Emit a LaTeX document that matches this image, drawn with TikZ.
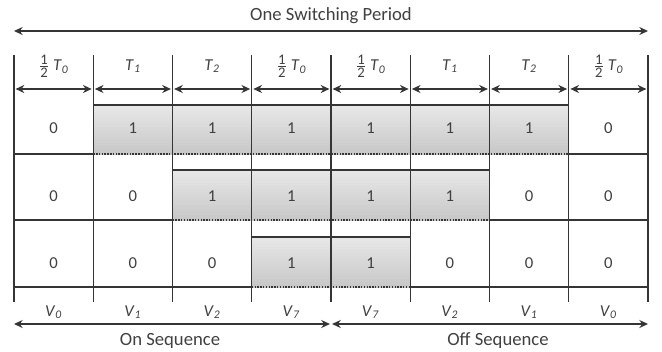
\documentclass[tikz,border=0pt]{standalone}
\usepackage{fontspec}
\setmainfont{Carlito}
\usetikzlibrary{arrows.meta}
\definecolor{lnc}{HTML}{353535}
\definecolor{txc}{HTML}{404040}
\newcommand{\hlf}{\ensuremath{\frac{\mbox{\fontsize{11}{11}\selectfont 1}}{\mbox{\fontsize{11}{11}\selectfont 2}}}}
\begin{document}
\begin{tikzpicture}[x=0.75pt,y=-0.75pt,
  lnst/.style={draw=lnc,line width=1.1pt},
  dotst/.style={draw=lnc,line width=1.1pt,densely dotted},
  dbl/.style={draw=lnc,line width=1.1pt,{Stealth[length=6.5pt,width=6pt]}-{Stealth[length=6.5pt,width=6pt]}},
  onbox/.style={top color=black!9,bottom color=black!22},
  lbl/.style={text=txc,font=\fontsize{12.5}{14}\selectfont,inner sep=1pt},
  ttl/.style={text=txc,font=\fontsize{14}{16}\selectfont,inner sep=1pt}]
\useasboundingbox (0,0) rectangle (662,351);
% column coordinates
\foreach \i in {0,...,8}{
  \coordinate (t\i) at (14+79.25*\i,55);
  \coordinate (b\i) at (14+79.25*\i,302);
  \coordinate (h\i) at (14+79.25*\i,89);
  \coordinate (ra\i) at (14+79.25*\i,105);
  \coordinate (rb\i) at (14+79.25*\i,154);
  \coordinate (rc\i) at (14+79.25*\i,170);
  \coordinate (rd\i) at (14+79.25*\i,220);
  \coordinate (re\i) at (14+79.25*\i,237);
  \coordinate (rf\i) at (14+79.25*\i,287);
}
% shaded on-boxes
\fill[onbox] (ra1) rectangle (rb7);
\fill[onbox] (rc2) rectangle (rd6);
\fill[onbox] (re3) rectangle (rf5);
% box outlines
\draw[lnst] (ra1) -- (ra7) -- (rb7);
\draw[dotst] (rb1) -- (rb7);
\draw[lnst] (rc2) -- (rc6) -- (rd6);
\draw[dotst] (rd2) -- (rd6);
\draw[lnst] (re3) -- (re5) -- (rf5);
\draw[dotst] (rf3) -- (rf5);
% white cell bottoms
\draw[lnst] (rb0) -- (rb1);
\draw[lnst] (rb7) -- (rb8);
\draw[lnst] (rd0) -- (rd2);
\draw[lnst] (rd6) -- (rd8);
\draw[lnst] (rf0) -- (rf3);
\draw[lnst] (rf5) -- (rf8);
% column lines
\foreach \i in {0,...,8}{\draw[lnst] (t\i) -- (b\i);}
% header arrows
\foreach \i [evaluate=\i as \j using int(\i+1)] in {0,...,7}{
  \draw[dbl] ([xshift=1.2]h\i) -- ([xshift=-1.2]h\j);
}
% title arrow
\coordinate (ta) at (14,31);
\coordinate (tb) at (648,31);
\draw[dbl] (ta) -- (tb);
\node[ttl] (title) at (331,16) {One Switching Period};
% header labels
\node[lbl] (hd0) at (53.6,66) {\hlf\ \textit{T}\textsubscript{\textit{0}}};
\node[lbl] (hd1) at (132.9,66) {\textit{T}\textsubscript{\textit{1}}};
\node[lbl] (hd2) at (212.1,66) {\textit{T}\textsubscript{\textit{2}}};
\node[lbl] (hd3) at (291.4,66) {\hlf\ \textit{T}\textsubscript{\textit{0}}};
\node[lbl] (hd4) at (370.6,66) {\hlf\ \textit{T}\textsubscript{\textit{0}}};
\node[lbl] (hd5) at (449.9,66) {\textit{T}\textsubscript{\textit{1}}};
\node[lbl] (hd6) at (529.1,66) {\textit{T}\textsubscript{\textit{2}}};
\node[lbl] (hd7) at (608.4,66) {\hlf\ \textit{T}\textsubscript{\textit{0}}};
% cell values
\foreach \v [count=\k from 0] in {0,1,1,1,1,1,1,0}{
  \node[lbl] (ca\k) at (53.6+79.25*\k,128) {\v};}
\foreach \v [count=\k from 0] in {0,0,1,1,1,1,0,0}{
  \node[lbl] (cb\k) at (53.6+79.25*\k,196) {\v};}
\foreach \v [count=\k from 0] in {0,0,0,1,1,0,0,0}{
  \node[lbl] (cc\k) at (53.6+79.25*\k,263) {\v};}
% vector labels
\foreach \v [count=\k from 0] in {0,1,2,7,7,2,1,0}{
  \node[lbl] (vl\k) at (53.6+79.25*\k,312) {\textit{V}\textsubscript{\textit{\v}}};}
% sequence arrows
\coordinate (sa) at (14,324);
\coordinate (sm) at (331,324);
\coordinate (sb) at (648,324);
\draw[dbl] (sa) -- ([xshift=-0.8]sm);
\draw[dbl] ([xshift=0.8]sm) -- (sb);
\node[ttl] (onseq) at (170,341) {On Sequence};
\node[ttl] (offseq) at (498,341) {Off Sequence};
\end{tikzpicture}
\end{document}
